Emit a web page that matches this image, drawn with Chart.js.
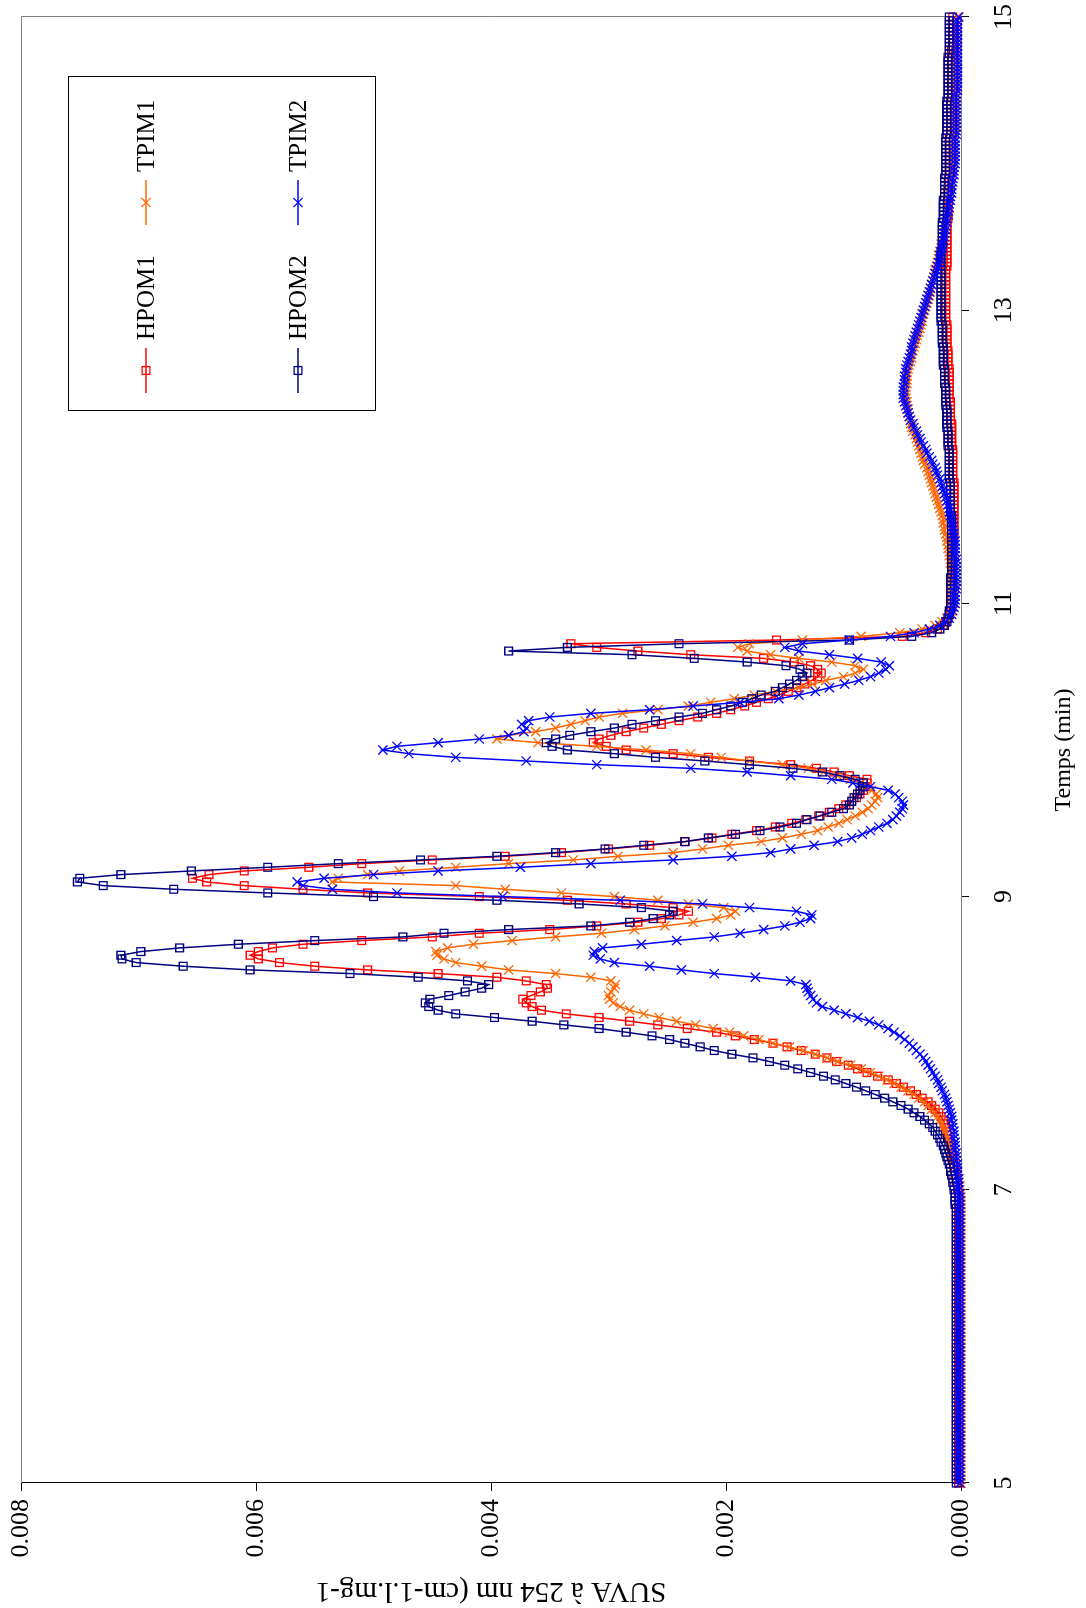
<!DOCTYPE html>
<html lang="fr">
<head>
<meta charset="utf-8">
<title>SUVA - chromatogrammes</title>
<script src="https://cdn.jsdelivr.net/npm/chart.js@4.4.1/dist/chart.umd.min.js"></script>
<style>
	html, body { margin: 0; padding: 0; background: #fff; overflow: hidden; }
	/* le graphique est dessiné en paysage puis tourné d'un quart de tour */
	#cadre { position: absolute; left: 0; top: 0; width: 1608px; height: 1086px; transform-origin: 0 0; transform: translate(0, 1608px) rotate(-90deg); }
</style>
</head>
<body>
<div id="cadre"><canvas id="graphique-suva" width="1608" height="1086"></canvas></div>
<script>
// temps de rétention (min)
const temps = [
	5,5.025,5.05,5.075,5.1,5.125,5.15,5.175,5.2,5.225,
	5.25,5.275,5.3,5.325,5.35,5.375,5.4,5.425,5.45,5.475,
	5.5,5.525,5.55,5.575,5.6,5.625,5.65,5.675,5.7,5.725,
	5.75,5.775,5.8,5.825,5.85,5.875,5.9,5.925,5.95,5.975,
	6,6.025,6.05,6.075,6.1,6.125,6.15,6.175,6.2,6.225,
	6.25,6.275,6.3,6.325,6.35,6.375,6.4,6.425,6.45,6.475,
	6.5,6.525,6.55,6.575,6.6,6.625,6.65,6.675,6.7,6.725,
	6.75,6.775,6.8,6.825,6.85,6.875,6.9,6.925,6.95,6.975,
	7,7.025,7.05,7.075,7.1,7.125,7.15,7.175,7.2,7.225,
	7.25,7.275,7.3,7.325,7.35,7.375,7.4,7.425,7.45,7.475,
	7.5,7.525,7.55,7.575,7.6,7.625,7.65,7.675,7.7,7.725,
	7.75,7.775,7.8,7.825,7.85,7.875,7.9,7.925,7.95,7.975,
	8,8.025,8.05,8.075,8.1,8.125,8.15,8.175,8.2,8.225,
	8.25,8.275,8.3,8.325,8.35,8.375,8.4,8.425,8.45,8.475,
	8.5,8.525,8.55,8.575,8.6,8.625,8.65,8.675,8.7,8.725,
	8.75,8.775,8.8,8.825,8.85,8.875,8.9,8.925,8.95,8.975,
	9,9.025,9.05,9.075,9.1,9.125,9.15,9.175,9.2,9.225,
	9.25,9.275,9.3,9.325,9.35,9.375,9.4,9.425,9.45,9.475,
	9.5,9.525,9.55,9.575,9.6,9.625,9.65,9.675,9.7,9.725,
	9.75,9.775,9.8,9.825,9.85,9.875,9.9,9.925,9.95,9.975,
	10,10.025,10.05,10.075,10.1,10.125,10.15,10.175,10.2,10.225,
	10.25,10.275,10.3,10.325,10.35,10.375,10.4,10.425,10.45,10.475,
	10.5,10.525,10.55,10.575,10.6,10.625,10.65,10.675,10.7,10.725,
	10.75,10.775,10.8,10.825,10.85,10.875,10.9,10.925,10.95,10.975,
	11,11.025,11.05,11.075,11.1,11.125,11.15,11.175,11.2,11.225,
	11.25,11.275,11.3,11.325,11.35,11.375,11.4,11.425,11.45,11.475,
	11.5,11.525,11.55,11.575,11.6,11.625,11.65,11.675,11.7,11.725,
	11.75,11.775,11.8,11.825,11.85,11.875,11.9,11.925,11.95,11.975,
	12,12.025,12.05,12.075,12.1,12.125,12.15,12.175,12.2,12.225,
	12.25,12.275,12.3,12.325,12.35,12.375,12.4,12.425,12.45,12.475,
	12.5,12.525,12.55,12.575,12.6,12.625,12.65,12.675,12.7,12.725,
	12.75,12.775,12.8,12.825,12.85,12.875,12.9,12.925,12.95,12.975,
	13,13.025,13.05,13.075,13.1,13.125,13.15,13.175,13.2,13.225,
	13.25,13.275,13.3,13.325,13.35,13.375,13.4,13.425,13.45,13.475,
	13.5,13.525,13.55,13.575,13.6,13.625,13.65,13.675,13.7,13.725,
	13.75,13.775,13.8,13.825,13.85,13.875,13.9,13.925,13.95,13.975,
	14,14.025,14.05,14.075,14.1,14.125,14.15,14.175,14.2,14.225,
	14.25,14.275,14.3,14.325,14.35,14.375,14.4,14.425,14.45,14.475,
	14.5,14.525,14.55,14.575,14.6,14.625,14.65,14.675,14.7,14.725,
	14.75,14.775,14.8,14.825,14.85,14.875,14.9,14.925,14.95,14.975,
	15
];

// SUVA en 10^-3 cm-1.L.mg-1
const hpom1 = [
	0.02,0.02,0.02,0.02,0.02,0.02,0.02,0.02,0.02,0.02,
	0.02,0.02,0.02,0.02,0.02,0.02,0.02,0.02,0.02,0.02,
	0.02,0.02,0.02,0.02,0.02,0.02,0.02,0.02,0.02,0.02,
	0.02,0.02,0.02,0.02,0.02,0.02,0.02,0.02,0.02,0.02,
	0.02,0.02,0.02,0.02,0.02,0.02,0.02,0.02,0.02,0.02,
	0.02,0.02,0.02,0.02,0.02,0.02,0.02,0.02,0.02,0.02,
	0.02,0.02,0.02,0.02,0.02,0.02,0.02,0.02,0.02,0.02,
	0.02,0.02,0.02,0.02,0.02,0.02,0.02,0.02,0.02,0.02,
	0.03,0.03,0.04,0.04,0.05,0.05,0.06,0.06,0.07,0.07,
	0.08,0.08,0.09,0.10,0.11,0.12,0.12,0.13,0.14,0.15,
	0.17,0.19,0.22,0.25,0.28,0.33,0.38,0.43,0.49,0.55,
	0.62,0.71,0.80,0.88,0.96,1.06,1.14,1.24,1.36,1.48,
	1.60,1.76,1.92,2.08,2.33,2.58,2.82,3.08,3.36,3.57,
	3.65,3.70,3.73,3.66,3.58,3.52,3.53,3.70,3.95,4.45,
	5.05,5.50,5.80,5.98,6.05,5.98,5.86,5.60,5.10,4.50,
	4.10,3.50,3.10,2.75,2.55,2.40,2.32,2.45,2.85,3.35,
	4.10,5.05,5.60,6.10,6.42,6.54,6.40,6.10,5.55,5.10,
	4.50,3.88,3.40,3.00,2.65,2.35,2.12,1.95,1.74,1.58,
	1.44,1.32,1.21,1.12,1.04,0.98,0.93,0.89,0.86,0.83,
	0.81,0.80,0.80,0.95,1.08,1.23,1.45,1.80,2.15,2.45,
	2.85,3.02,3.13,3.08,2.98,2.85,2.70,2.55,2.40,2.24,
	2.08,1.96,1.84,1.74,1.64,1.55,1.47,1.40,1.33,1.27,
	1.22,1.19,1.22,1.28,1.42,1.68,2.30,2.75,3.10,3.32,
	1.57,0.50,0.30,0.20,0.15,0.13,0.11,0.10,0.09,0.08,
	0.08,0.08,0.08,0.08,0.08,0.08,0.08,0.08,0.07,0.07,
	0.07,0.07,0.07,0.07,0.07,0.07,0.07,0.07,0.06,0.06,
	0.06,0.06,0.06,0.06,0.06,0.06,0.06,0.06,0.06,0.06,
	0.06,0.06,0.06,0.06,0.07,0.07,0.07,0.07,0.07,0.07,
	0.07,0.07,0.07,0.08,0.08,0.08,0.08,0.08,0.08,0.08,
	0.09,0.09,0.09,0.09,0.09,0.09,0.10,0.10,0.10,0.10,
	0.10,0.10,0.10,0.10,0.10,0.11,0.11,0.11,0.11,0.11,
	0.12,0.12,0.12,0.12,0.12,0.12,0.12,0.13,0.13,0.13,
	0.13,0.13,0.13,0.13,0.13,0.13,0.13,0.13,0.13,0.13,
	0.13,0.13,0.12,0.12,0.12,0.12,0.12,0.12,0.12,0.12,
	0.12,0.12,0.12,0.12,0.12,0.11,0.11,0.11,0.11,0.11,
	0.11,0.11,0.11,0.11,0.10,0.10,0.10,0.10,0.10,0.10,
	0.10,0.10,0.10,0.10,0.10,0.10,0.10,0.10,0.09,0.09,
	0.09,0.09,0.09,0.09,0.09,0.09,0.09,0.09,0.08,0.08,
	0.08,0.08,0.08,0.08,0.08,0.08,0.08,0.08,0.08,0.08,
	0.08,0.08,0.07,0.07,0.07,0.07,0.07,0.07,0.07,0.07,
	0.07
];

const tpim1 = [
	0.00,0.00,0.00,0.00,0.00,0.00,0.00,0.00,0.00,0.00,
	0.00,0.00,0.00,0.00,0.00,0.00,0.00,0.00,0.00,0.00,
	0.00,0.00,0.00,0.00,0.00,0.00,0.00,0.00,0.00,0.00,
	0.00,0.00,0.00,0.00,0.00,0.00,0.00,0.00,0.00,0.00,
	0.00,0.00,0.00,0.00,0.00,0.00,0.00,0.00,0.00,0.00,
	0.00,0.00,0.00,0.00,0.00,0.00,0.00,0.00,0.00,0.00,
	0.00,0.00,0.00,0.00,0.00,0.00,0.00,0.00,0.00,0.00,
	0.00,0.00,0.00,0.00,0.00,0.00,0.00,0.00,0.00,0.00,
	0.01,0.01,0.02,0.02,0.03,0.03,0.04,0.05,0.06,0.07,
	0.08,0.09,0.10,0.11,0.12,0.13,0.14,0.15,0.16,0.18,
	0.20,0.22,0.25,0.28,0.31,0.36,0.40,0.45,0.51,0.57,
	0.63,0.70,0.77,0.85,0.94,1.05,1.14,1.24,1.34,1.46,
	1.60,1.72,1.85,1.97,2.11,2.26,2.42,2.57,2.70,2.82,
	2.90,2.96,2.99,3.00,2.98,2.95,2.94,2.98,3.15,3.45,
	3.85,4.08,4.30,4.40,4.46,4.47,4.37,4.15,3.82,3.45,
	3.06,2.78,2.52,2.28,2.08,1.96,1.92,2.02,2.32,2.58,
	2.95,3.40,3.88,4.30,5.35,5.30,5.05,4.78,4.30,3.85,
	3.30,2.92,2.45,2.20,1.98,1.70,1.52,1.36,1.22,1.13,
	1.04,0.97,0.90,0.84,0.79,0.76,0.73,0.71,0.72,0.76,
	0.80,0.85,0.94,1.05,1.17,1.30,1.52,1.80,2.04,2.30,
	2.68,3.10,3.60,3.95,3.85,3.62,3.45,3.32,3.20,3.08,
	2.88,2.58,2.32,2.13,1.93,1.76,1.58,1.38,1.26,1.15,
	1.00,0.90,0.83,0.90,1.10,1.38,1.62,1.82,1.90,1.80,
	1.35,0.85,0.52,0.33,0.22,0.16,0.12,0.10,0.08,0.07,
	0.06,0.06,0.06,0.06,0.06,0.06,0.07,0.07,0.07,0.08,
	0.08,0.09,0.09,0.10,0.10,0.11,0.11,0.12,0.12,0.13,
	0.14,0.14,0.15,0.15,0.16,0.17,0.18,0.19,0.20,0.21,
	0.22,0.23,0.24,0.25,0.26,0.27,0.28,0.29,0.31,0.32,
	0.33,0.34,0.35,0.36,0.37,0.38,0.39,0.41,0.42,0.43,
	0.43,0.44,0.45,0.45,0.46,0.46,0.47,0.47,0.47,0.47,
	0.46,0.46,0.46,0.46,0.45,0.44,0.43,0.42,0.42,0.41,
	0.40,0.39,0.38,0.37,0.36,0.35,0.34,0.33,0.33,0.32,
	0.31,0.30,0.29,0.28,0.27,0.26,0.26,0.25,0.24,0.23,
	0.22,0.22,0.21,0.20,0.19,0.19,0.18,0.17,0.17,0.16,
	0.15,0.15,0.14,0.14,0.13,0.13,0.12,0.12,0.11,0.11,
	0.11,0.10,0.10,0.10,0.09,0.09,0.09,0.08,0.08,0.08,
	0.07,0.07,0.07,0.07,0.06,0.06,0.06,0.06,0.06,0.06,
	0.05,0.05,0.05,0.05,0.05,0.05,0.05,0.05,0.05,0.04,
	0.04,0.04,0.04,0.04,0.04,0.04,0.04,0.04,0.04,0.04,
	0.03,0.03,0.03,0.03,0.03,0.03,0.03,0.03,0.03,0.03,
	0.03
];

const hpom2 = [
	0.04,0.04,0.04,0.04,0.04,0.04,0.04,0.04,0.04,0.04,
	0.04,0.04,0.04,0.04,0.04,0.04,0.04,0.04,0.04,0.04,
	0.04,0.04,0.04,0.04,0.04,0.04,0.04,0.04,0.04,0.04,
	0.04,0.04,0.04,0.04,0.04,0.04,0.04,0.04,0.04,0.04,
	0.04,0.04,0.04,0.04,0.04,0.04,0.04,0.04,0.04,0.04,
	0.04,0.04,0.04,0.04,0.04,0.04,0.04,0.04,0.04,0.04,
	0.04,0.04,0.04,0.04,0.04,0.04,0.04,0.04,0.04,0.04,
	0.04,0.04,0.04,0.04,0.04,0.04,0.05,0.05,0.05,0.05,
	0.06,0.06,0.07,0.07,0.08,0.09,0.09,0.10,0.11,0.12,
	0.13,0.14,0.15,0.17,0.18,0.20,0.22,0.24,0.27,0.31,
	0.35,0.40,0.45,0.51,0.58,0.65,0.73,0.81,0.89,0.98,
	1.07,1.17,1.28,1.39,1.50,1.63,1.77,1.95,2.10,2.22,
	2.35,2.48,2.63,2.85,3.08,3.38,3.65,3.97,4.30,4.45,
	4.53,4.56,4.52,4.36,4.22,4.08,4.02,4.20,4.62,5.20,
	6.05,6.62,7.02,7.14,7.15,6.98,6.65,6.15,5.50,4.75,
	4.40,3.85,3.15,2.82,2.62,2.48,2.45,2.72,3.25,3.95,
	5.00,5.90,6.70,7.30,7.52,7.50,7.15,6.55,5.90,5.30,
	4.60,3.95,3.45,3.03,2.70,2.35,2.15,1.92,1.71,1.54,
	1.40,1.31,1.20,1.10,1.00,0.95,0.93,0.91,0.88,0.86,
	0.84,0.83,0.90,1.03,1.18,1.43,1.80,2.18,2.60,2.95,
	3.35,3.48,3.53,3.45,3.33,3.15,2.95,2.80,2.60,2.40,
	2.20,2.08,1.96,1.86,1.78,1.70,1.58,1.52,1.46,1.40,
	1.35,1.31,1.37,1.49,1.82,2.27,2.80,3.85,3.35,2.40,
	0.95,0.42,0.25,0.18,0.14,0.12,0.11,0.10,0.10,0.09,
	0.09,0.09,0.09,0.09,0.09,0.09,0.09,0.09,0.08,0.08,
	0.08,0.08,0.08,0.08,0.08,0.08,0.08,0.08,0.08,0.08,
	0.08,0.08,0.08,0.08,0.08,0.09,0.09,0.09,0.09,0.09,
	0.09,0.09,0.09,0.09,0.10,0.10,0.10,0.10,0.10,0.10,
	0.10,0.10,0.10,0.11,0.11,0.11,0.11,0.11,0.12,0.12,
	0.12,0.12,0.12,0.12,0.13,0.13,0.13,0.13,0.13,0.13,
	0.14,0.14,0.14,0.14,0.14,0.15,0.15,0.15,0.15,0.15,
	0.15,0.16,0.16,0.16,0.16,0.16,0.16,0.17,0.17,0.17,
	0.17,0.17,0.17,0.17,0.17,0.17,0.17,0.17,0.17,0.17,
	0.17,0.17,0.17,0.17,0.17,0.17,0.17,0.16,0.16,0.16,
	0.16,0.16,0.16,0.16,0.16,0.15,0.15,0.15,0.15,0.15,
	0.15,0.14,0.14,0.14,0.14,0.14,0.14,0.13,0.13,0.13,
	0.13,0.13,0.13,0.13,0.13,0.13,0.13,0.13,0.12,0.12,
	0.12,0.12,0.12,0.12,0.12,0.12,0.12,0.12,0.11,0.11,
	0.11,0.11,0.11,0.11,0.11,0.11,0.11,0.11,0.11,0.11,
	0.10,0.10,0.10,0.10,0.10,0.10,0.10,0.10,0.10,0.10,
	0.10
];

const tpim2 = [
	0.01,0.01,0.01,0.01,0.01,0.01,0.01,0.01,0.01,0.01,
	0.01,0.01,0.01,0.01,0.01,0.01,0.01,0.01,0.01,0.01,
	0.01,0.01,0.01,0.01,0.01,0.01,0.01,0.01,0.01,0.01,
	0.01,0.01,0.01,0.01,0.01,0.01,0.01,0.01,0.01,0.01,
	0.01,0.01,0.01,0.01,0.01,0.01,0.01,0.01,0.01,0.01,
	0.01,0.01,0.01,0.01,0.01,0.01,0.01,0.01,0.01,0.01,
	0.01,0.01,0.01,0.01,0.01,0.01,0.01,0.01,0.01,0.01,
	0.01,0.01,0.01,0.01,0.01,0.01,0.01,0.01,0.01,0.01,
	0.02,0.02,0.02,0.02,0.03,0.03,0.03,0.03,0.04,0.04,
	0.04,0.05,0.05,0.05,0.06,0.06,0.06,0.07,0.07,0.08,
	0.08,0.09,0.10,0.11,0.12,0.13,0.14,0.16,0.17,0.19,
	0.20,0.22,0.24,0.26,0.28,0.30,0.32,0.35,0.38,0.41,
	0.44,0.48,0.52,0.57,0.62,0.70,0.78,0.88,0.98,1.08,
	1.18,1.23,1.26,1.28,1.30,1.31,1.32,1.45,1.75,2.10,
	2.38,2.65,2.95,3.07,3.13,3.12,3.05,2.72,2.42,2.10,
	1.88,1.68,1.50,1.37,1.28,1.27,1.40,1.80,2.20,2.90,
	3.90,4.80,5.35,5.60,5.65,5.42,5.00,4.45,3.75,3.15,
	2.45,1.95,1.62,1.45,1.25,1.05,0.93,0.84,0.77,0.70,
	0.63,0.58,0.55,0.52,0.50,0.49,0.50,0.53,0.56,0.62,
	0.77,0.92,1.10,1.45,1.82,2.30,3.10,3.70,4.30,4.70,
	4.92,4.80,4.45,4.10,3.85,3.72,3.70,3.74,3.68,3.50,
	3.15,2.65,2.28,1.88,1.55,1.38,1.24,1.12,0.99,0.87,
	0.77,0.70,0.64,0.61,0.68,0.88,1.12,1.38,1.50,1.35,
	0.95,0.60,0.40,0.27,0.18,0.13,0.10,0.08,0.07,0.06,
	0.05,0.05,0.05,0.05,0.04,0.04,0.04,0.04,0.04,0.04,
	0.04,0.04,0.04,0.05,0.05,0.05,0.05,0.05,0.06,0.06,
	0.07,0.07,0.08,0.08,0.09,0.10,0.10,0.11,0.12,0.13,
	0.14,0.15,0.16,0.17,0.18,0.20,0.21,0.22,0.24,0.25,
	0.27,0.29,0.30,0.32,0.34,0.35,0.37,0.38,0.40,0.41,
	0.43,0.44,0.45,0.46,0.47,0.48,0.49,0.49,0.49,0.49,
	0.48,0.48,0.48,0.47,0.47,0.46,0.45,0.44,0.43,0.42,
	0.42,0.41,0.40,0.39,0.38,0.37,0.36,0.35,0.34,0.33,
	0.32,0.31,0.30,0.29,0.28,0.27,0.26,0.25,0.24,0.23,
	0.22,0.21,0.20,0.19,0.18,0.18,0.17,0.16,0.16,0.15,
	0.14,0.14,0.13,0.13,0.12,0.12,0.11,0.11,0.10,0.10,
	0.09,0.09,0.08,0.08,0.08,0.07,0.07,0.06,0.06,0.06,
	0.05,0.05,0.05,0.05,0.05,0.05,0.05,0.05,0.04,0.04,
	0.04,0.04,0.04,0.04,0.04,0.04,0.04,0.04,0.04,0.04,
	0.03,0.03,0.03,0.03,0.03,0.03,0.03,0.03,0.03,0.03,
	0.03,0.03,0.03,0.03,0.03,0.03,0.03,0.03,0.03,0.03,
	0.02
];

const ticksTemps = [5, 7, 9, 11, 13, 15];
const ticksSuva = [0, 2, 4, 6, 8];

const series = [
	{ label: "HPOM1", data: hpom1, couleur: "#FF0000", marqueur: "rect", ordre: 4 },
	{ label: "TPIM1", data: tpim1, couleur: "#FF6600", marqueur: "crossRot", ordre: 3 },
	{ label: "HPOM2", data: hpom2, couleur: "#000080", marqueur: "rect", ordre: 2 },
	{ label: "TPIM2", data: tpim2, couleur: "#0000FF", marqueur: "crossRot", ordre: 1 },
];

const police = "'Liberation Serif', 'Times New Roman', serif";

function dessinerMarqueur(ctx, style, x, y, r) {
	const d = r * Math.SQRT1_2;
	ctx.beginPath();
	if (style === "rect") {
		ctx.rect(x - d, y - d, 2 * d, 2 * d);
	} else {
		ctx.moveTo(x - d, y - d);
		ctx.lineTo(x + d, y + d);
		ctx.moveTo(x - d, y + d);
		ctx.lineTo(x + d, y - d);
	}
	ctx.stroke();
}

const cadreEtLegende = {
	id: "cadreEtLegende",
	beforeDatasetsDraw(chart) {
		const { ctx, chartArea } = chart;
		ctx.save();
		ctx.strokeStyle = "#808080";
		ctx.lineWidth = 1;
		ctx.beginPath();
		ctx.moveTo(chartArea.left, chartArea.top + 0.5);
		ctx.lineTo(chartArea.right + 0.5, chartArea.top + 0.5);
		ctx.lineTo(chartArea.right + 0.5, chartArea.bottom);
		ctx.stroke();
		ctx.restore();
	},
	afterDraw(chart) {
		const { ctx, chartArea } = chart;
		const boite = { x: chartArea.right - 394, y: chartArea.top + 47, l: 334, h: 307 };
		ctx.save();
		ctx.fillStyle = "#fff";
		ctx.fillRect(boite.x, boite.y, boite.l, boite.h);
		ctx.strokeStyle = "#000";
		ctx.lineWidth = 1;
		ctx.strokeRect(boite.x + 0.5, boite.y + 0.5, boite.l, boite.h);
		ctx.font = "25px " + police;
		ctx.textBaseline = "middle";
		ctx.textAlign = "left";
		const colonnes = [boite.x + 18, boite.x + 186];
		const lignes = [boite.y + 78, boite.y + 230];
		chart.data.datasets.forEach((ds, i) => {
			const x = colonnes[i % 2];
			const y = lignes[Math.floor(i / 2)];
			ctx.strokeStyle = ds.borderColor;
			ctx.lineWidth = 1.5;
			ctx.beginPath();
			ctx.moveTo(x, y);
			ctx.lineTo(x + 45, y);
			ctx.stroke();
			ctx.lineWidth = 1.3;
			dessinerMarqueur(ctx, ds.pointStyle, x + 22.5, y, ds.pointRadius);
			ctx.fillStyle = "#000";
			ctx.fillText(ds.label, x + 53, y + 1);
		});
		ctx.restore();
	}
};

const graphique = new Chart(document.querySelector("#graphique-suva"), {
	type: "line",
	data: {
		labels: temps,
		datasets: series.map(s => ({
			label: s.label,
			data: s.data,
			borderColor: s.couleur,
			backgroundColor: "transparent",
			borderWidth: 1.5,
			pointStyle: s.marqueur,
			pointRadius: s.marqueur === "rect" ? 5.5 : 6.5,
			pointBorderColor: s.couleur,
			pointBackgroundColor: "transparent",
			pointBorderWidth: 1.3,
			tension: 0,
			clip: false,
			order: s.ordre,
		})),
	},
	options: {
		responsive: false,
		animation: false,
		devicePixelRatio: 1,
		events: [],
		layout: { padding: { top: 21, right: 17, left: 0, bottom: 0 } },
		plugins: { legend: { display: false }, tooltip: { enabled: false } },
		scales: {
			x: {
				type: "linear",
				position: "bottom",
				min: 5,
				max: 15,
				afterBuildTicks: scale => { scale.ticks = ticksTemps.map(v => ({ value: v })); },
				afterFit: scale => { scale.height = 125; scale.paddingLeft = 0; scale.paddingRight = 0; },
				grid: { drawOnChartArea: false, drawTicks: true, tickLength: 8, tickColor: "#000", tickWidth: 1 },
				border: { display: true, color: "#808080", width: 1 },
				ticks: { font: { family: police, size: 26 }, color: "#000", padding: 20, maxRotation: 0, autoSkip: false },
				title: { display: true, text: "Temps (min)", color: "#000", font: { family: police, size: 24 }, padding: { top: 0, bottom: 8 } },
			},
			y: {
				type: "linear",
				position: "left",
				min: 0,
				max: 8,
				afterBuildTicks: scale => { scale.ticks = ticksSuva.map(v => ({ value: v })); },
				afterFit: scale => { scale.width = 125; scale.paddingTop = 0; scale.paddingBottom = 0; },
				grid: { drawOnChartArea: false, drawTicks: true, tickLength: 8, tickColor: "#000", tickWidth: 1 },
				border: { display: true, color: "#000", width: 1 },
				ticks: { font: { family: police, size: 26 }, color: "#000", padding: 8, callback: v => (v / 1000).toFixed(3) },
				title: { display: true, text: "SUVA à 254 nm (cm-1.l.mg-1", color: "#000", font: { family: police, size: 29 }, padding: { top: 0, bottom: 0 } },
			},
		},
	},
	plugins: [cadreEtLegende],
});
</script>
</body>
</html>
